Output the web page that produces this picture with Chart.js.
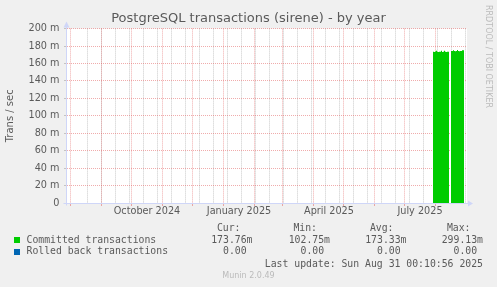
<!DOCTYPE html>
<html>
<head>
<meta charset="utf-8">
<script src="https://cdn.jsdelivr.net/npm/chart.js@4.4.1/dist/chart.umd.min.js"></script>
<style>
  body { margin: 0; background: #f0f0f0; width: 497px; height: 287px; overflow: hidden; position: relative; }
  canvas { position: absolute; left: 0; top: 0; }
  .t { position: absolute; font-family: "DejaVu Sans Mono", monospace; font-size: 9.8px; line-height: 12px; height: 12px; white-space: pre; color: #5a5a5a; }
  .sq { position: absolute; width: 6px; height: 6px; }
  .foot { position: absolute; font-family: "DejaVu Sans", sans-serif; font-size: 8px; line-height: 10px; color: #bbbbbb; white-space: pre; }
</style>
</head>
<body>
<canvas id="chart" width="497" height="287"></canvas>
<div id="legend"></div>
<script>
const TITLE = "PostgreSQL transactions (sirene) - by year";
const Y_TITLE = "Trans / sec";
const WATERMARK = "RRDTOOL / TOBI OETIKER";

const Y_TICK_LABELS = ["0", "20 m", "40 m", "60 m", "80 m", "100 m", "120 m", "140 m", "160 m", "180 m", "200 m"];
const X_LABELS = ["October 2024", "January 2025", "April 2025", "July 2025"];
const X_LABEL_MONTHS = ["2024-10-01", "2025-01-01", "2025-04-01", "2025-07-01"];
const MONTH_STARTS = ["2024-08-01", "2024-09-01", "2024-10-01", "2024-11-01", "2024-12-01", "2025-01-01",
  "2025-02-01", "2025-03-01", "2025-04-01", "2025-05-01", "2025-06-01", "2025-07-01", "2025-08-01"];
const MINOR_FROM = "2024-08-18";

const sampleDates = ["2025-07-29", "2025-07-30", "2025-07-31", "2025-08-01", "2025-08-02", "2025-08-03",
  "2025-08-04", "2025-08-05", "2025-08-06", "2025-08-07", "2025-08-08", "2025-08-09", "2025-08-10",
  "2025-08-11", "2025-08-12", "2025-08-13", "2025-08-14", "2025-08-15", "2025-08-16", "2025-08-17",
  "2025-08-18", "2025-08-19", "2025-08-20", "2025-08-21", "2025-08-22", "2025-08-23", "2025-08-24",
  "2025-08-25", "2025-08-26", "2025-08-27", "2025-08-28", "2025-08-29"];
// milli-transactions per second
const committed = [173.3, 173.5, 173.2, 173.6, 174.6, 173.4, 173.3, 173.5, 173.4, 174.5, 173.3, 173.4,
  174.6, 173.5, 173.2, 173.4, 173.4, null,
  174.1, 174.3, 174.2, 175.3, 174.2, 174.0, 174.3, 175.4, 174.2, 174.1, 174.3, 174.2, 175.2, 175.2];
const rolledBack = [0, 0, 0, 0, 0, 0, 0, 0, 0, 0, 0, 0, 0, 0, 0, 0, 0, null,
  0, 0, 0, 0, 0, 0, 0, 0, 0, 0, 0, 0, 0, 0];

const SERIES_NAMES = ["Committed transactions", "Rolled back transactions"];
const SERIES_COLORS = ["#00CC00", "#0066B3"];
const STAT_HEADERS = ["Cur:", "Min:", "Avg:", "Max:"];
const STATS = [
  ["173.76m", "102.75m", "173.33m", "299.13m"],
  ["0.00", "0.00", "0.00", "0.00"],
];
const LAST_UPDATE = "Last update: Sun Aug 31 00:10:56 2025";
const FOOTER = "Munin 2.0.49";

const TEXT = "#5a5a5a";
const GRID = "rgba(150,150,150,0.5)";
const MGRID = "rgba(225,90,90,0.5)";
const AXIS = "#CFD6F8";

const DAY = 86400000;
const START = Date.parse("2024-07-28T12:00:00Z");
const SPAN = 400;
const dayOf = (s) => (Date.parse(s + "T00:00:00Z") - START) / DAY;

// x ticks: month lines, fortnight lines, quarter labels
const xTicks = [];
for (let t = Date.parse(MINOR_FROM + "T00:00:00Z"); t < START + SPAN * DAY; t += 14 * DAY) {
  xTicks.push({ value: (t - START) / DAY, kind: "minor" });
}
MONTH_STARTS.forEach((d) => xTicks.push({ value: dayOf(d), kind: "major" }));
X_LABEL_MONTHS.forEach((d, i) => xTicks.push({ value: dayOf(d) + 15.5, kind: "label", text: X_LABELS[i] }));
const order = { minor: 0, major: 1, label: 2 };
xTicks.sort((a, b) => a.value - b.value || order[a.kind] - order[b.kind]);

const yTicks = [];
for (let v = 0; v <= 200; v += 10) yTicks.push({ value: v });

const toPoints = (arr) => arr.map((v, i) => ({ x: dayOf(sampleDates[i]) + 0.5, y: v }));

const munin = {
  id: "munin",
  beforeDraw(chart) {
    const { ctx, chartArea: a } = chart;
    ctx.save();
    ctx.fillStyle = "#ffffff";
    ctx.fillRect(a.left, a.top, a.right - a.left, a.bottom - a.top);
    ctx.restore();
  },
  afterDraw(chart) {
    const { ctx, chartArea: a } = chart;
    const x0 = a.left - 0.5, y0 = a.bottom + 0.5;
    ctx.save();
    ctx.strokeStyle = AXIS;
    ctx.fillStyle = AXIS;
    ctx.lineWidth = 1;
    ctx.beginPath();
    ctx.moveTo(x0, y0 + 2);
    ctx.lineTo(x0, a.top - 2);
    ctx.moveTo(x0 - 3, y0);
    ctx.lineTo(a.right + 2, y0);
    ctx.stroke();
    // arrow heads
    ctx.beginPath();
    ctx.moveTo(x0, a.top - 7);
    ctx.lineTo(x0 - 3, a.top - 1);
    ctx.lineTo(x0 + 3, a.top - 1);
    ctx.closePath();
    ctx.fill();
    ctx.beginPath();
    ctx.moveTo(a.right + 6, y0);
    ctx.lineTo(a.right + 1, y0 - 3);
    ctx.lineTo(a.right + 1, y0 + 3);
    ctx.closePath();
    ctx.fill();
    // watermark
    ctx.translate(488, 5);
    ctx.rotate(Math.PI / 2);
    ctx.fillStyle = "#bbbbbb";
    ctx.font = "8px 'DejaVu Sans'";
    ctx.textAlign = "left";
    ctx.textBaseline = "middle";
    ctx.fillText(WATERMARK, 0, 0);
    ctx.restore();
  },
};

const font = { family: "DejaVu Sans", size: 9.7 };

new Chart(document.getElementById("chart"), {
  type: "line",
  data: {
    datasets: [
      {
        label: SERIES_NAMES[0],
        data: toPoints(committed),
        backgroundColor: SERIES_COLORS[0],
        borderWidth: 0,
        pointRadius: 0,
        fill: "origin",
        stepped: "after",
        spanGaps: false,
      },
      {
        label: SERIES_NAMES[1],
        data: toPoints(rolledBack),
        backgroundColor: SERIES_COLORS[1],
        borderWidth: 0,
        pointRadius: 0,
        fill: "origin",
        stepped: "after",
        spanGaps: false,
      },
    ],
  },
  options: {
    responsive: false,
    animation: false,
    devicePixelRatio: 1,
    layout: { padding: { left: 0, right: 0, top: 0, bottom: 64 } },
    plugins: {
      legend: { display: false },
      tooltip: { enabled: false },
      title: {
        display: true,
        text: TITLE,
        color: TEXT,
        font: { family: "DejaVu Sans", size: 13, weight: "normal" },
        padding: { top: 11, bottom: 2 },
      },
    },
    scales: {
      x: {
        type: "linear",
        min: 0,
        max: SPAN,
        afterBuildTicks: (s) => { s.ticks = xTicks.map((t) => ({ ...t })); },
        afterFit: (s) => { s.height = 20; },
        grid: {
          color: (c) => (c.tick && c.tick.kind === "major" ? MGRID : c.tick && c.tick.kind === "minor" ? GRID : "rgba(0,0,0,0)"),
          tickColor: (c) => (c.tick && c.tick.kind === "major" ? MGRID : "rgba(0,0,0,0)"),
          tickLength: 3,
        },
        border: { display: false, dash: [1, 1] },
        ticks: {
          autoSkip: false,
          maxRotation: 0,
          padding: 0,
          color: TEXT,
          font: font,
          callback: (v, i, ticks) => ticks[i].text || "",
        },
      },
      y: {
        min: 0,
        max: 200,
        afterBuildTicks: (s) => { s.ticks = yTicks.map((t) => ({ ...t })); },
        afterFit: (s) => { s.width = 67; },
        grid: {
          color: (c) => (c.tick && c.tick.value % 20 === 0 ? MGRID : GRID),
          tickColor: GRID,
          tickLength: 3,
        },
        border: { display: false, dash: [1, 1] },
        ticks: {
          padding: 4.5,
          color: TEXT,
          font: font,
          callback: (v) => (v % 20 === 0 ? Y_TICK_LABELS[v / 20] : ""),
        },
        title: {
          display: true,
          text: Y_TITLE,
          color: TEXT,
          font: { family: "DejaVu Sans", size: 10 },
          padding: { top: 4.5, bottom: 0 },
        },
      },
      // empty right margin (holds the rrdtool watermark) so the title centres on the page
      side: {
        position: "right",
        display: true,
        afterFit: (s) => { s.width = 30; },
        grid: { display: false },
        border: { display: false },
        ticks: { display: false },
      },
    },
  },
  plugins: [munin],
});

// legend table under the graph
const legend = document.getElementById("legend");
const W = 497;
function put(text, cls, opts) {
  const el = document.createElement("div");
  el.className = cls;
  el.textContent = text;
  Object.entries(opts).forEach(([k, v]) => { el.style[k] = v + "px"; });
  legend.appendChild(el);
  return el;
}
const headRight = [240.5, 317, 393.5, 470.5];
const valRight = [252.5, 330, 406.5, 483];
const rowTop = [233.7, 245];
STAT_HEADERS.forEach((h, i) => put(h, "t", { right: W - headRight[i], top: 222.3 }));
SERIES_NAMES.forEach((name, r) => {
  const sq = document.createElement("div");
  sq.className = "sq";
  sq.style.left = "14px";
  sq.style.top = (rowTop[r] + 3.5) + "px";
  sq.style.background = SERIES_COLORS[r];
  legend.appendChild(sq);
  put(name, "t", { left: 26.5, top: rowTop[r] });
  STATS[r].forEach((s, i) => {
    const txt = /\d$/.test(s) ? s + " " : s;
    put(txt, "t", { right: W - valRight[i], top: rowTop[r] });
  });
});
put(LAST_UPDATE, "t", { right: W - 483, top: 257.5 });
const f = put(FOOTER, "foot", { top: 271.3 });
f.style.left = "0px";
f.style.width = W + "px";
f.style.textAlign = "center";
</script>
</body>
</html>
